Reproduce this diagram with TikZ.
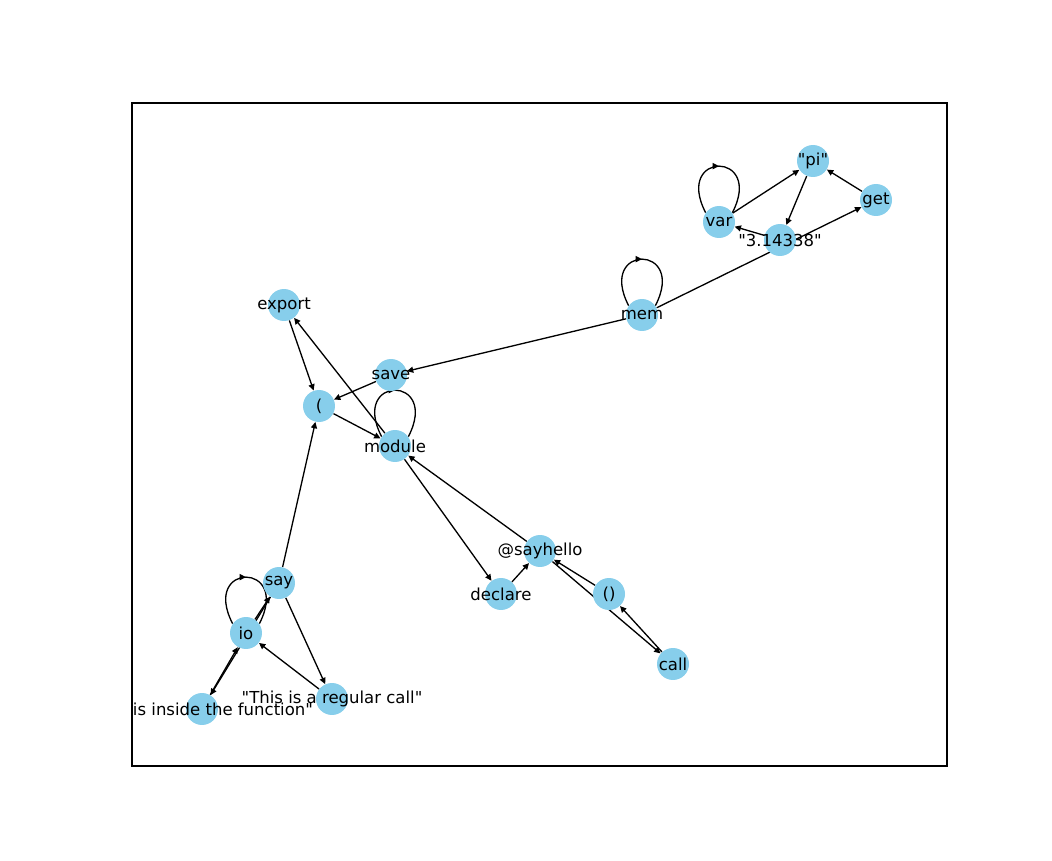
\documentclass[tikz,border=0pt]{standalone}
\usepackage{fontspec}
\setmainfont{DejaVu Sans}[Ligatures=TeXOff]
\usetikzlibrary{arrows.meta,decorations.markings}
\pgfdeclarelayer{bg}
\pgfsetlayers{bg,main}
\definecolor{nodeblue}{HTML}{87CEEB}
\tikzset{
  v/.style={circle, fill=nodeblue, minimum size=0.64cm, inner sep=0pt, font=\fontsize{9.4}{11}\selectfont},
  e/.style={line width=0.75pt, -{Triangle[length=3.6pt,width=3.4pt]}},
  selfloop/.style={line width=0.75pt, postaction=decorate,
    decoration={markings, mark=at position 0.5 with {\arrow{Triangle[length=3.6pt,width=3.4pt]}}}},
  frame/.style={line width=0.6pt}
}
\newcommand{\lbl}[1]{\makebox[0pt]{#1}}
\begin{document}
\begin{tikzpicture}[x=0.02cm, y=-0.02cm]
\useasboundingbox (0,0) rectangle (1052,861);
\draw[frame] (132,103) rectangle (947,766);
% nodes
\node[v] (pi)      at (813,161) {\lbl{"pi"}};
\node[v] (get)     at (876,200) {\lbl{get}};
\node[v] (var)     at (719,222) {\lbl{var}};
\node[v] (num)     at (780,240) {\lbl{"3.14338"}};
\node[v] (mem)     at (642,315) {\lbl{mem}};
\node[v] (export)  at (284,305) {\lbl{export}};
\node[v] (save)    at (391,375) {\lbl{save}};
\node[v] (lp)      at (319,406) {\lbl{(}};
\node[v] (module)  at (395,446) {\lbl{module}};
\node[v] (hello)   at (540,551) {\lbl{@sayhello}};
\node[v] (declare) at (501,594) {\lbl{declare}};
\node[v] (paren)   at (609,594) {\lbl{()}};
\node[v] (call)    at (673,664) {\lbl{call}};
\node[v] (say)     at (279,583) {\lbl{say}};
\node[v] (io)      at (246,633) {\lbl{io}};
\node[v] (inside)  at (202,709) {\makebox[0pt][l]{\hspace{2.22cm}\llap{is inside the function"}}};
\node[v] (regular) at (332,699) {\lbl{"This is a regular call"}};
% edges
\begin{pgfonlayer}{bg}
\draw[e] (var) -- (pi);
\draw[e] (pi) -- (num);
\draw[e] (get) -- (pi);
\draw[e] (num) -- (var);
\draw[e] (mem) -- (get);
\draw[e] (mem) -- (save);
\draw[e] (save) -- (lp);
\draw[e] (export) -- (lp);
\draw[e] (module) -- (export);
\draw[e] (lp) -- (module);
\draw[e] (module) -- (declare);
\draw[e] (hello) -- (module);
\draw[e] (declare) -- (hello);
\draw[e] (paren) -- (hello);
\draw[e] (hello) -- (call);
\draw[e] (call) -- (paren);
\draw[e] (say) -- (lp);
\draw[e] (say) -- (regular);
\draw[e] (regular) -- (io);
\draw[e] (io) -- (say);
\draw[e] (say) -- (inside);
\draw[e] (inside) -- (io);
\draw[selfloop] (var.145) .. controls +(-32,-62) and +(32,-62) .. (var.35);
\draw[selfloop] (mem.145) .. controls +(-32,-62) and +(32,-62) .. (mem.35);
\draw[selfloop] (module.145) .. controls +(-32,-62) and +(32,-62) .. (module.35);
\draw[selfloop] (io.145) .. controls +(-32,-62) and +(32,-62) .. (io.35);
\end{pgfonlayer}
\end{tikzpicture}
\end{document}
